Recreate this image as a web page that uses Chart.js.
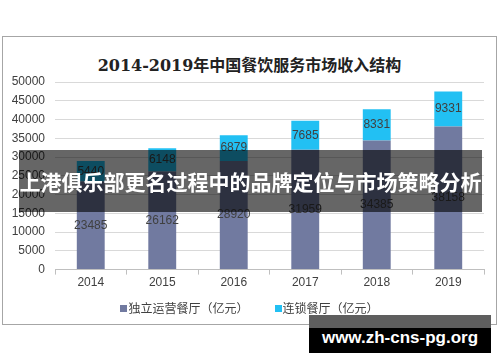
<!DOCTYPE html>
<html>
<head>
<meta charset="utf-8">
<script src="https://cdn.jsdelivr.net/npm/chart.js@4.4.1/dist/chart.umd.min.js"></script>
<style>
    body { margin: 0; width: 500px; height: 362px; background: #fff; position: relative; overflow: hidden; }
    #frame { position: absolute; left: 2px; top: 36px; width: 493px; height: 287px; border: 1px solid #a6a6a6; }
    #title { position: absolute; left: 0; top: 15px; width: 100%; text-align: center; font: bold 16px "DejaVu Serif", "Noto Sans CJK SC", serif; color: #222; }
    #wrap { position: absolute; left: 0; top: 0; width: 493px; height: 287px; }
    #legend { position: absolute; left: 0; top: 262px; width: 100%; text-align: center; font: 12px "Noto Sans CJK SC", sans-serif; color: #404040; white-space: nowrap; }
    #legend span.item { margin: 0 13px; }
    #legend i { display: inline-block; width: 7px; height: 7px; margin-right: 1px; vertical-align: 1px; }
    #banner { position: absolute; left: 19px; top: 150px; width: 463px; height: 62px; background: rgba(0,0,0,0.6);
        color: #fff; font: bold 21px "Noto Sans CJK SC", sans-serif; line-height: 62px; text-align: center; white-space: nowrap; }
    #mark { position: absolute; left: 309px; top: 315px; width: 182px; height: 38px; background: #000; }
    #mark .top { position: absolute; left: 0; top: 0; width: 100%; height: 13px; background: #5e5e5e; }
    #mark .txt { position: absolute; left: 0; top: 13px; width: 100%; height: 25px; line-height: 25px; text-align: center;
        color: #fff; font: bold 17px "Liberation Sans", Arial, sans-serif; }
</style>
</head>
<body>
<div id="frame">
    <div id="title">2014-2019年中国餐饮服务市场收入结构</div>
    <div id="wrap"><canvas id="revenueChart"></canvas></div>
    <div id="legend"></div>
</div>
<div id="banner">上港俱乐部更名过程中的品牌定位与市场策略分析</div>
<div id="mark"><div class="top"></div><div class="txt">www.zh-cns-pg.org</div></div>

<script>
const years = ["2014", "2015", "2016", "2017", "2018", "2019"];
const independent = [23485, 26162, 28920, 31959, 34385, 38158];
const chain = [5440, 6148, 6879, 7685, 8331, 9331];
const seriesNames = ["独立运营餐厅（亿元）", "连锁餐厅（亿元）"];
const seriesColors = ["#717aa0", "#22c0f3"];

// values in the middle of each segment
const segmentLabels = {
    id: "segmentLabels",
    afterDatasetsDraw(chart) {
        const c = chart.ctx;
        c.save();
        c.font = "12px 'Liberation Sans', Arial, sans-serif";
        c.fillStyle = "#404040";
        c.textAlign = "center";
        c.textBaseline = "middle";
        chart.data.datasets.forEach((ds, i) => {
            chart.getDatasetMeta(i).data.forEach((bar, j) => {
                const mid = (bar.y + bar.base) / 2;
                c.fillText(ds.data[j], bar.x, mid);
            });
        });
        c.restore();
    }
};

const ctx = document.getElementById("revenueChart");

const chart = new Chart(ctx, {
    type: "bar",
    data: {
        labels: years,
        datasets: [
            {
                label: seriesNames[0],
                data: independent,
                backgroundColor: seriesColors[0],
                barPercentage: 0.39,
                categoryPercentage: 1
            },
            {
                label: seriesNames[1],
                data: chain,
                backgroundColor: seriesColors[1],
                barPercentage: 0.39,
                categoryPercentage: 1
            }
        ]
    },
    options: {
        responsive: true,
        maintainAspectRatio: false,
        animation: false,
        layout: {
            padding: { top: 45, right: 12, left: 0, bottom: 33 }
        },
        plugins: {
            legend: { display: false },
            tooltip: { enabled: false }
        },
        scales: {
            x: {
                stacked: true,
                grid: {
                    drawOnChartArea: false,
                    color: "#bfbfbf",
                    tickLength: 5
                },
                border: { color: "#bfbfbf" },
                ticks: {
                    color: "#404040",
                    padding: 1,
                    font: { size: 12, family: "'Liberation Sans', Arial, sans-serif" }
                }
            },
            y: {
                stacked: true,
                min: 0,
                max: 50000,
                afterFit: s => { s.width = 52; },
                grid: { color: "#d9d9d9", drawTicks: false },
                border: { display: false },
                ticks: {
                    stepSize: 5000,
                    autoSkip: false,
                    padding: 10,
                    color: "#404040",
                    callback: v => String(v),
                    font: { size: 12, family: "'Liberation Sans', Arial, sans-serif" }
                }
            }
        }
    },
    plugins: [segmentLabels]
});

document.getElementById("legend").innerHTML = chart.data.datasets.map(ds =>
    '<span class="item"><i style="background:' + ds.backgroundColor + '"></i>' + ds.label + '</span>'
).join("");
</script>
</body>
</html>
